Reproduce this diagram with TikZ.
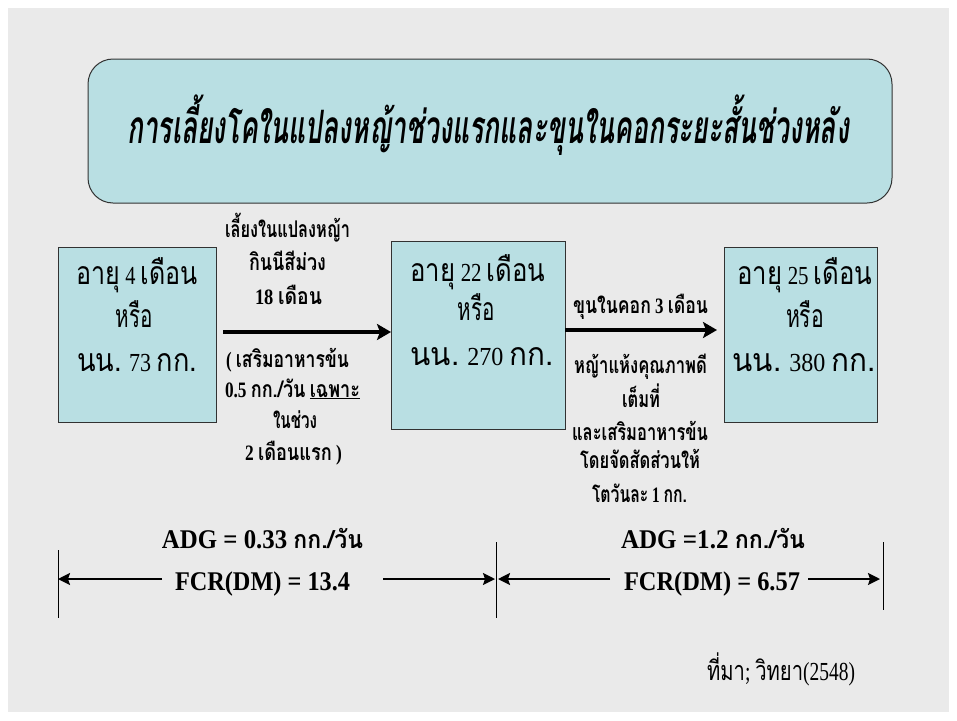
\documentclass[tikz,border=0pt]{standalone}
\usepackage{fontspec}
\usepackage{graphicx}
\setmainfont{Liberation Serif}
\newfontfamily\thfont[Script=Thai]{Loma}
\usetikzlibrary{arrows.meta}
\definecolor{bggray}{RGB}{234,234,234}
\definecolor{boxfill}{RGB}{185,223,227}
\definecolor{edge}{RGB}{50,50,50}
\newlength\thsz
\newcommand\thx[1]{{\thfont\fontsize{\thsz}{\thsz}\selectfont #1}}
\newcommand\fitw[2]{\resizebox{#1pt}{\height}{#2}}
\begin{document}
\begin{tikzpicture}[x=1pt,y=-1pt,
  every node/.style={inner sep=0pt,outer sep=0pt},
  cbox/.style={draw=edge,line width=1pt,fill=boxfill},
  titletxt/.style={anchor=base,font=\setlength\thsz{46pt}\fontsize{30}{32}\selectfont\bfseries\itshape},
  boxtxt/.style={anchor=base,font=\setlength\thsz{32pt}\fontsize{26}{28}\selectfont},
  lbl/.style={anchor=base,font=\setlength\thsz{23pt}\fontsize{22}{24}\selectfont\bfseries},
  big/.style={anchor=base,font=\setlength\thsz{25pt}\fontsize{27}{28}\selectfont\bfseries},
  src/.style={anchor=base,font=\setlength\thsz{27pt}\fontsize{26}{28}\selectfont},
  bigarrow/.style={line width=4pt,-{Stealth[length=14pt,width=16pt,inset=3pt]}},
  dimarrow/.style={line width=2pt,-{Stealth[length=12pt,width=12pt,inset=2pt]}},
  vline/.style={line width=0.8pt,draw=black}]
\fill[white] (0,0) rectangle (957,720);
\fill[bggray] (8,8) rectangle (949,712);
\useasboundingbox (0,0) rectangle (957,720);

% title
\node[cbox,rounded corners=25pt,minimum width=804pt,minimum height=144pt] (title) at (490,131) {};
\node[titletxt] (titletext) at (488,143) {\fitw{722}{\thx{การเลี้ยงโคในแปลงหญ้าช่วงแรกและขุนในคอกระยะสั้นช่วงหลัง}}};

% boxes
\node[cbox,minimum width=158pt,minimum height=175pt] (b1) at (137,334.5) {};
\node[cbox,minimum width=174pt,minimum height=188pt] (b2) at (478,335) {};
\node[cbox,minimum width=153pt,minimum height=175pt] (b3) at (800.5,334.5) {};

\node[boxtxt] (b1l1) at (137,284) {\fitw{121}{\thx{อายุ} 4 \thx{เดือน}}};
\node[boxtxt] (b1l2) at (134,327) {\fitw{37}{\thx{หรือ}}};
\node[boxtxt] (b1l3) at (137,371) {\fitw{120}{\thx{นน.} 73 \thx{กก.}}};

\node[boxtxt] (b2l1) at (478,281) {\fitw{135}{\thx{อายุ} 22 \thx{เดือน}}};
\node[boxtxt] (b2l2) at (476,320) {\fitw{37}{\thx{หรือ}}};
\node[boxtxt] (b2l3) at (482,365) {\fitw{143}{\thx{นน.} 270 \thx{กก.}}};

\node[boxtxt] (b3l1) at (805,284) {\fitw{135}{\thx{อายุ} 25 \thx{เดือน}}};
\node[boxtxt] (b3l2) at (805,327) {\fitw{38}{\thx{หรือ}}};
\node[boxtxt] (b3l3) at (804,371) {\fitw{143}{\thx{นน.} 380 \thx{กก.}}};

% arrows between boxes
\draw[bigarrow] ([shift={(7pt,2.5pt)}]b1.east) -- ([yshift=3pt]b2.west);
\draw[bigarrow] ([yshift=5pt]b2.east) -- ([shift={(-7pt,4.5pt)}]b3.west);

% left labels
\node[lbl] (l1) at (287.5,237) {\fitw{125}{\thx{เลี้ยงในแปลงหญ้า}}};
\node[lbl] (l2) at (287.5,270) {\fitw{77}{\thx{กินนีสีม่วง}}};
\node[lbl] (l3) at (288.5,304) {\fitw{67}{18 \thx{เดือน}}};
\node[lbl] (l4) at (287.5,367) {\fitw{123}{( \thx{เสริมอาหารข้น}}};
\node[lbl] (l5) at (292.5,397) {\fitw{135}{0.5 \thx{กก./วัน} \underline{\thx{เฉพาะ}}}};
\node[lbl] (l6) at (295,428) {\fitw{44}{\thx{ในช่วง}}};
\node[lbl] (l7) at (293.5,460) {\fitw{97}{2 \thx{เดือนแรก} )}};

% right labels
\node[lbl] (r1) at (640.5,313) {\fitw{135}{\thx{ขุนในคอก} 3 \thx{เดือน}}};
\node[lbl] (r2) at (640.5,373) {\fitw{133}{\thx{หญ้าแห้งคุณภาพดี}}};
\node[lbl] (r3) at (641,407) {\fitw{38}{\thx{เต็มที่}}};
\node[lbl] (r4) at (640,440) {\fitw{136}{\thx{และเสริมอาหารข้น}}};
\node[lbl] (r5) at (640,468) {\fitw{120}{\thx{โดยจัดสัดส่วนให้}}};
\node[lbl] (r6) at (639.5,502) {\fitw{95}{\thx{โตวันละ} 1 \thx{กก.}}};

% bottom
\node[big] (adg1) at (262.5,548) {\fitw{201}{ADG = 0.33 \thx{กก./วัน}}};
\node[big] (adg2) at (713,548) {\fitw{184}{ADG =1.2 \thx{กก./วัน}}};
\node[big] (fcr1) at (262.5,590) {\fitw{175}{FCR(DM) = 13.4}};
\node[big] (fcr2) at (712,590) {\fitw{176}{FCR(DM) = 6.57}};

\coordinate (v1t) at (58,550); \coordinate (v1b) at (58,618);
\coordinate (v2t) at (496,542); \coordinate (v2b) at (496,618);
\coordinate (v3t) at (883,542); \coordinate (v3b) at (883,610);
\draw[vline] (v1t) -- (v1b);
\draw[vline] (v2t) -- (v2b);
\draw[vline] (v3t) -- (v3b);

\coordinate (d1a) at (162,579);
\coordinate (d1b) at (383,579);
\coordinate (d2a) at (610,579);
\coordinate (d2b) at (808,579);
\draw[dimarrow] (d1a) -- (v1t |- d1a);
\draw[dimarrow] (d1b) -- ([xshift=-1pt]v2t |- d1b);
\draw[dimarrow] (d2a) -- ([xshift=2pt]v2t |- d2a);
\draw[dimarrow] (d2b) -- ([xshift=-3pt]v3t |- d2b);

% source
\node[src] (source) at (781,680) {\fitw{148}{\thx{ที่มา}; \thx{วิทยา}(2548)}};
\end{tikzpicture}
\end{document}
